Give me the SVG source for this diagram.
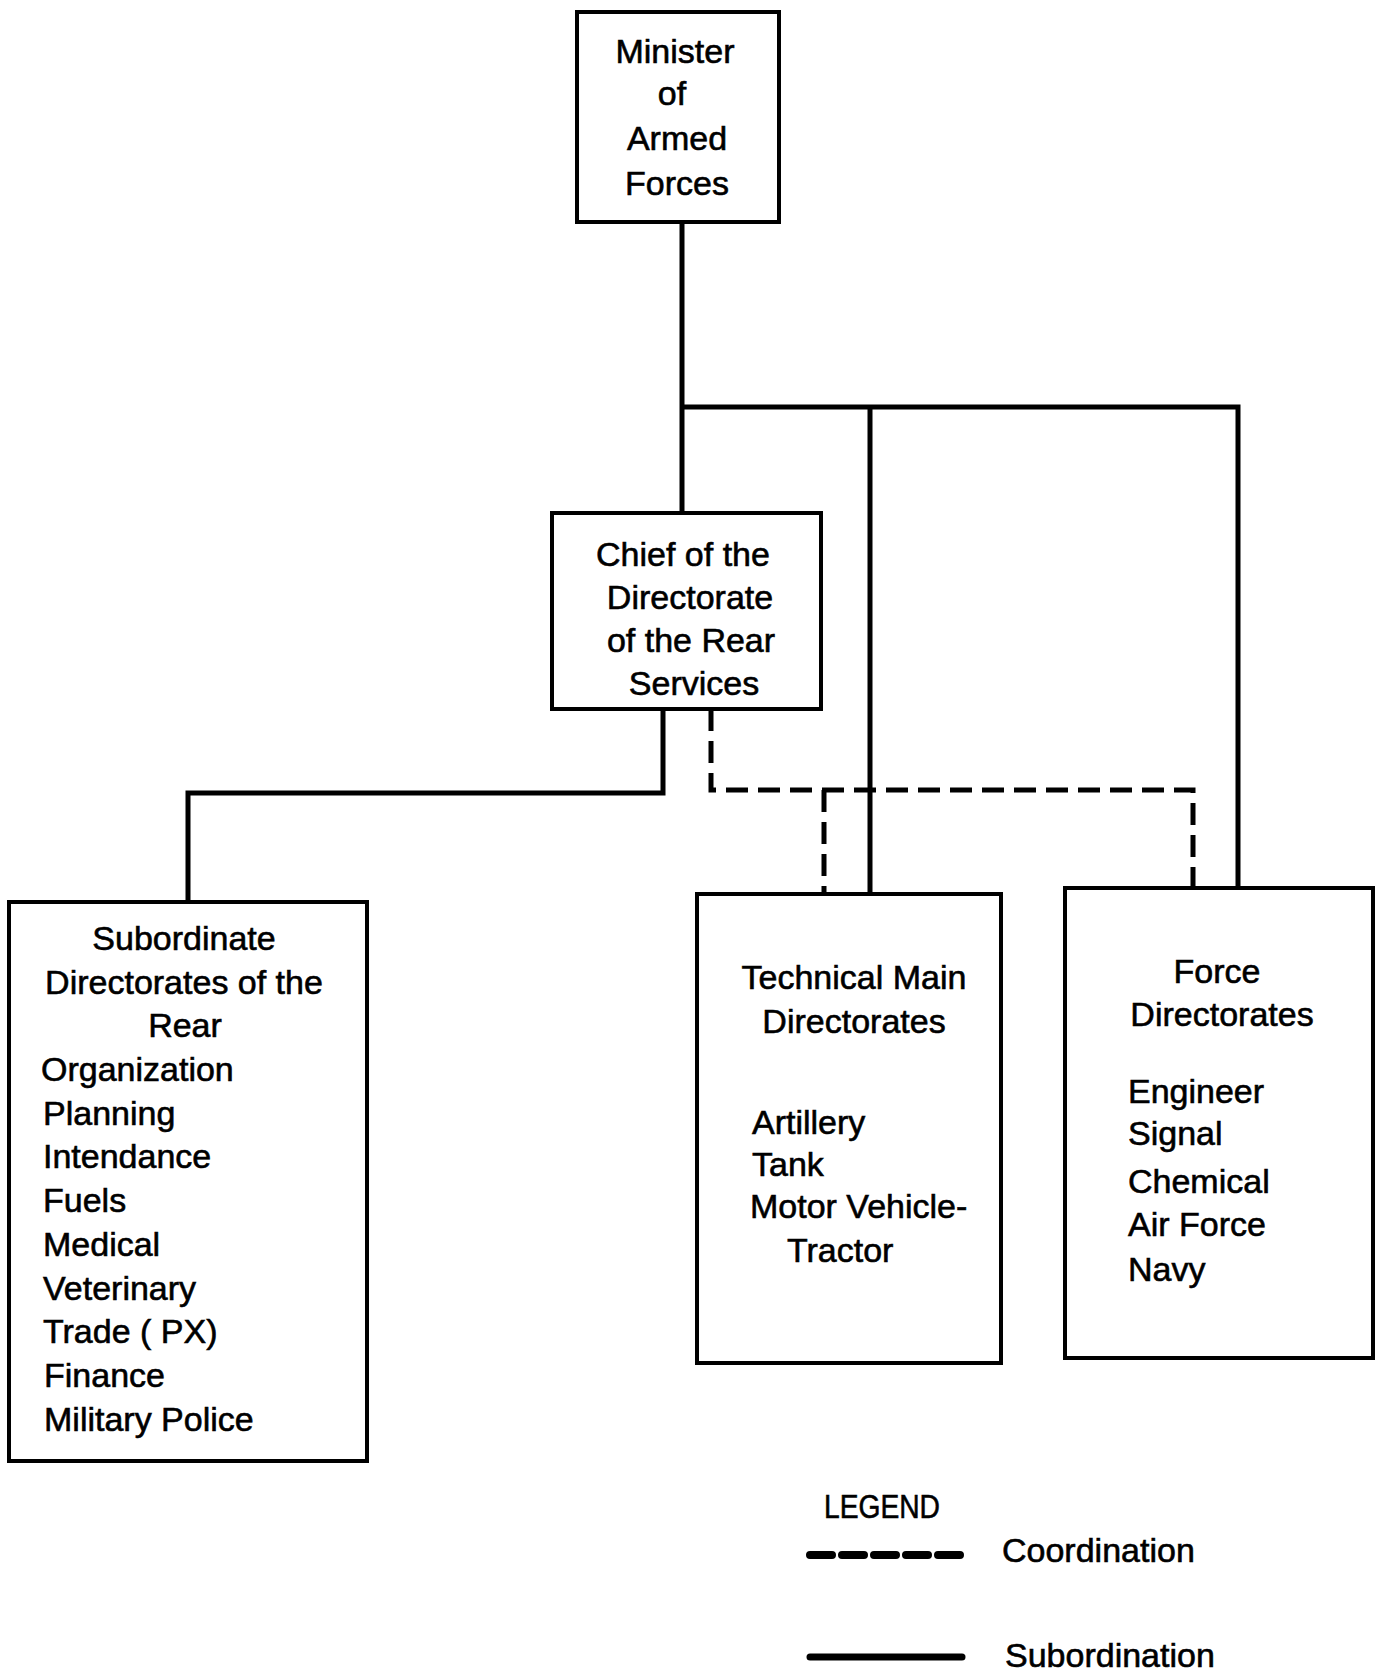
<svg xmlns="http://www.w3.org/2000/svg" width="1378" height="1674" viewBox="0 0 1378 1674">
<style>
.box{fill:#fff;stroke:#000;stroke-width:4}
.t{font-family:"Liberation Sans",Arial,sans-serif;font-size:34px;fill:#000;stroke:#000;stroke-width:0.6}
.c{text-anchor:middle}
.sol{fill:none;stroke:#000;stroke-width:5}
.dash{fill:none;stroke:#000;stroke-width:5;stroke-dasharray:22 10}
</style>
<rect width="1378" height="1674" fill="#fff"/>
<g id="connectors">
<path class="sol" d="M682 223 V512"/>
<path class="sol" d="M682 407 H1238 V888"/>
<path class="sol" d="M870 407 V892"/>
<path class="sol" d="M663 709 V793 H188 V902"/>
<path class="dash" d="M711 709 V790 H1193 V888"/>
<path class="dash" d="M824 790 V892"/>
</g>
<g id="minister">
<rect class="box" x="577" y="12" width="202" height="210"/>
<text class="t c" x="675" y="63">Minister</text>
<text class="t c" x="672" y="105">of</text>
<text class="t c" x="677" y="150">Armed</text>
<text class="t c" x="677" y="195">Forces</text>
</g>
<g id="chief">
<rect class="box" x="552" y="513" width="269" height="196"/>
<text class="t c" x="683" y="566">Chief of the</text>
<text class="t c" x="690" y="609">Directorate</text>
<text class="t c" x="691" y="652">of the Rear</text>
<text class="t c" x="694" y="695">Services</text>
</g>
<g id="subordinate">
<rect class="box" x="9" y="902" width="358" height="559"/>
<text class="t c" x="184" y="950">Subordinate</text>
<text class="t c" x="184" y="994">Directorates of the</text>
<text class="t c" x="185" y="1037">Rear</text>
<text class="t" x="41" y="1081">Organization</text>
<text class="t" x="43" y="1125">Planning</text>
<text class="t" x="43" y="1168">Intendance</text>
<text class="t" x="43" y="1212">Fuels</text>
<text class="t" x="43" y="1256">Medical</text>
<text class="t" x="43" y="1300">Veterinary</text>
<text class="t" x="43" y="1343">Trade ( PX)</text>
<text class="t" x="44" y="1387">Finance</text>
<text class="t" x="44" y="1431">Military Police</text>
</g>
<g id="technical">
<rect class="box" x="697" y="894" width="304" height="469"/>
<text class="t c" x="854" y="989">Technical Main</text>
<text class="t c" x="854" y="1033">Directorates</text>
<text class="t" x="752" y="1134">Artillery</text>
<text class="t" x="752" y="1176">Tank</text>
<text class="t" x="750" y="1218">Motor Vehicle-</text>
<text class="t" x="787" y="1262">Tractor</text>
</g>
<g id="force">
<rect class="box" x="1065" y="888" width="308" height="470"/>
<text class="t c" x="1217" y="983">Force</text>
<text class="t c" x="1222" y="1026">Directorates</text>
<text class="t" x="1128" y="1103">Engineer</text>
<text class="t" x="1128" y="1145">Signal</text>
<text class="t" x="1128" y="1193">Chemical</text>
<text class="t" x="1128" y="1236">Air Force</text>
<text class="t" x="1128" y="1281">Navy</text>
</g>
<g id="legend">
<text class="t" x="824" y="1518" textLength="116" lengthAdjust="spacingAndGlyphs">LEGEND</text>
<path d="M810 1555 H962" fill="none" stroke="#000" stroke-width="8" stroke-linecap="round" stroke-dasharray="22 10"/>
<text class="t" x="1002" y="1562">Coordination</text>
<path d="M810 1657 H962" fill="none" stroke="#000" stroke-width="7" stroke-linecap="round"/>
<text class="t" x="1005" y="1667">Subordination</text>
</g>
</svg>
